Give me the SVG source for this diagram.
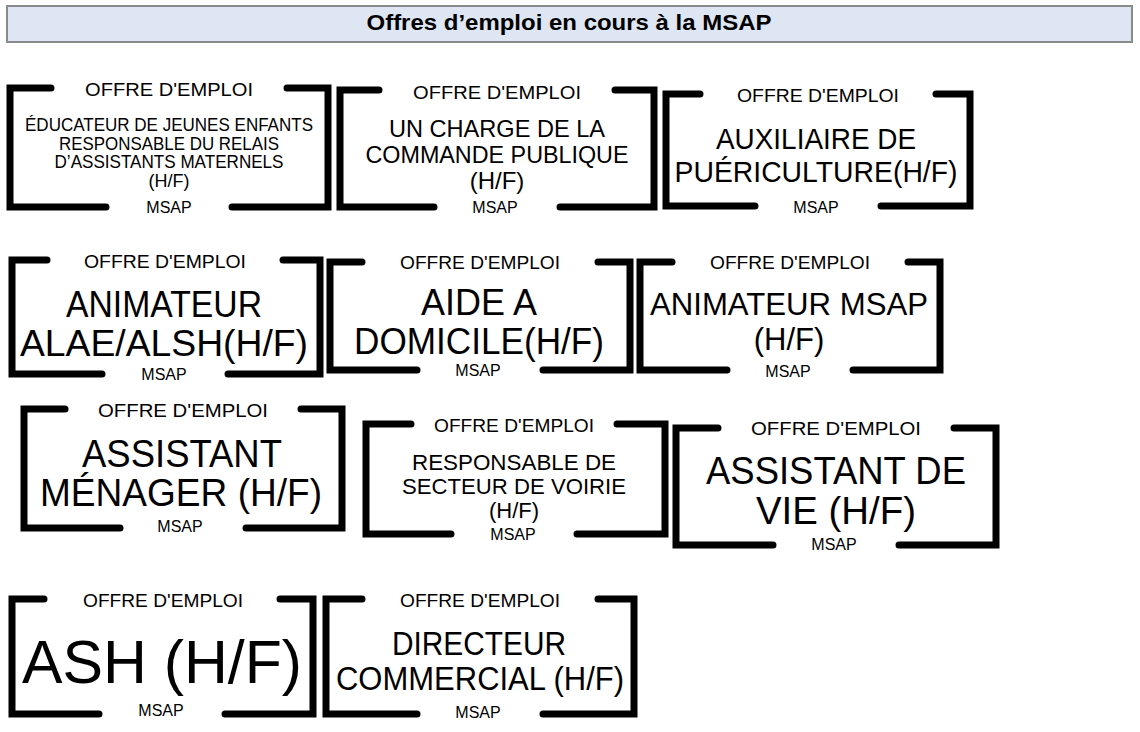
<svg xmlns="http://www.w3.org/2000/svg" width="1140" height="732" viewBox="0 0 1140 732">
<style>
.f{fill:none;stroke:#000;stroke-width:7;stroke-linecap:round;stroke-linejoin:miter}
text{font-family:"Liberation Sans",Arial,sans-serif;fill:#000;text-anchor:middle}
.h{font-size:19px}
.m{font-size:16px}
</style>
<rect width="1140" height="732" fill="#fff"/>
<g id="title"><rect x="7" y="6" width="1125" height="36" fill="#dde6f2" stroke="#8a8a8a" stroke-width="2"/>
<text x="569" y="30" style="font-size:22px;font-weight:bold" textLength="405" lengthAdjust="spacingAndGlyphs">Offres d’emploi en cours à la MSAP</text></g>
<g id="card1"><path class="f" d="M51 88H10V207H106M287 88H328V207H232"/>
<text class="h" x="169" y="96" textLength="168" lengthAdjust="spacingAndGlyphs">OFFRE D'EMPLOI</text>
<text x="169" y="131" style="font-size:18px" textLength="288" lengthAdjust="spacingAndGlyphs">ÉDUCATEUR DE JEUNES ENFANTS</text>
<text x="169" y="150" style="font-size:18px" textLength="220" lengthAdjust="spacingAndGlyphs">RESPONSABLE DU RELAIS</text>
<text x="169" y="168" style="font-size:18px" textLength="229" lengthAdjust="spacingAndGlyphs">D’ASSISTANTS MATERNELS</text>
<text x="169" y="187" style="font-size:18px">(H/F)</text>
<text class="m" x="169" y="213">MSAP</text></g>
<g id="card2"><path class="f" d="M379 90H340V207H434M615 90H654V207H560"/>
<text class="h" x="497" y="99" textLength="168" lengthAdjust="spacingAndGlyphs">OFFRE D'EMPLOI</text>
<text x="497" y="137" style="font-size:24px" textLength="216" lengthAdjust="spacingAndGlyphs">UN CHARGE DE LA</text>
<text x="497" y="163" style="font-size:24px" textLength="263" lengthAdjust="spacingAndGlyphs">COMMANDE PUBLIQUE</text>
<text x="497" y="189" style="font-size:24px">(H/F)</text>
<text class="m" x="495" y="213">MSAP</text></g>
<g id="card3"><path class="f" d="M700 94H666V206H755M936 94H970V206H881"/>
<text class="h" x="818" y="102" textLength="162" lengthAdjust="spacingAndGlyphs">OFFRE D'EMPLOI</text>
<text x="816" y="149" style="font-size:29px" textLength="200" lengthAdjust="spacingAndGlyphs">AUXILIAIRE DE</text>
<text x="816" y="182" style="font-size:29px" textLength="283" lengthAdjust="spacingAndGlyphs">PUÉRICULTURE(H/F)</text>
<text class="m" x="816" y="213">MSAP</text></g>
<g id="card4"><path class="f" d="M47 260H12V374H102M283 260H320V374H228"/>
<text class="h" x="165" y="268" textLength="162" lengthAdjust="spacingAndGlyphs">OFFRE D'EMPLOI</text>
<text x="164" y="317" style="font-size:36px" textLength="196" lengthAdjust="spacingAndGlyphs">ANIMATEUR</text>
<text x="164" y="356" style="font-size:36px" textLength="288" lengthAdjust="spacingAndGlyphs">ALAE/ALSH(H/F)</text>
<text class="m" x="164" y="380">MSAP</text></g>
<g id="card5"><path class="f" d="M362 262H330V370H417M598 262H630V370H543"/>
<text class="h" x="480" y="269" textLength="160" lengthAdjust="spacingAndGlyphs">OFFRE D'EMPLOI</text>
<text x="479" y="315" style="font-size:36px" textLength="116" lengthAdjust="spacingAndGlyphs">AIDE A</text>
<text x="479" y="354" style="font-size:36px" textLength="250" lengthAdjust="spacingAndGlyphs">DOMICILE(H/F)</text>
<text class="m" x="478" y="376">MSAP</text></g>
<g id="card6"><path class="f" d="M672 262H640V370H727M908 262H940V370H853"/>
<text class="h" x="790" y="269" textLength="160" lengthAdjust="spacingAndGlyphs">OFFRE D'EMPLOI</text>
<text x="789" y="315" style="font-size:31px" textLength="278" lengthAdjust="spacingAndGlyphs">ANIMATEUR MSAP</text>
<text x="789" y="350" style="font-size:31px">(H/F)</text>
<text class="m" x="788" y="377">MSAP</text></g>
<g id="card7"><path class="f" d="M65 409H24V528H120M301 409H342V528H246"/>
<text class="h" x="183" y="417" textLength="170" lengthAdjust="spacingAndGlyphs">OFFRE D'EMPLOI</text>
<text x="182" y="467" style="font-size:38px" textLength="200" lengthAdjust="spacingAndGlyphs">ASSISTANT</text>
<text x="181" y="506" style="font-size:38px" textLength="282" lengthAdjust="spacingAndGlyphs">MÉNAGER (H/F)</text>
<text class="m" x="180" y="532">MSAP</text></g>
<g id="card8"><path class="f" d="M411 424H366V534H451M617 424H665V534H577"/>
<text class="h" x="514" y="432" textLength="160" lengthAdjust="spacingAndGlyphs">OFFRE D'EMPLOI</text>
<text x="514" y="470" style="font-size:22px" textLength="204" lengthAdjust="spacingAndGlyphs">RESPONSABLE DE</text>
<text x="514" y="494" style="font-size:22px" textLength="224" lengthAdjust="spacingAndGlyphs">SECTEUR DE VOIRIE</text>
<text x="514" y="518" style="font-size:22px">(H/F)</text>
<text class="m" x="513" y="540">MSAP</text></g>
<g id="card9"><path class="f" d="M718 428H676V545H773M954 428H996V545H899"/>
<text class="h" x="836" y="435" textLength="170" lengthAdjust="spacingAndGlyphs">OFFRE D'EMPLOI</text>
<text x="836" y="484" style="font-size:39px" textLength="260" lengthAdjust="spacingAndGlyphs">ASSISTANT DE</text>
<text x="836" y="524" style="font-size:39px" textLength="160" lengthAdjust="spacingAndGlyphs">VIE (H/F)</text>
<text class="m" x="834" y="550">MSAP</text></g>
<g id="card10"><path class="f" d="M44 599H12V714H99M280 599H313V714H225"/>
<text class="h" x="163" y="607" textLength="160" lengthAdjust="spacingAndGlyphs">OFFRE D'EMPLOI</text>
<text x="162" y="683" style="font-size:62px" textLength="280" lengthAdjust="spacingAndGlyphs">ASH (H/F)</text>
<text class="m" x="161" y="716">MSAP</text></g>
<g id="card11"><path class="f" d="M362 599H326V714H417M598 599H634V714H543"/>
<text class="h" x="480" y="607" textLength="160" lengthAdjust="spacingAndGlyphs">OFFRE D'EMPLOI</text>
<text x="479" y="655" style="font-size:33px" textLength="174" lengthAdjust="spacingAndGlyphs">DIRECTEUR</text>
<text x="480" y="690" style="font-size:33px" textLength="288" lengthAdjust="spacingAndGlyphs">COMMERCIAL (H/F)</text>
<text class="m" x="478" y="718">MSAP</text></g>
<g id="connectors"/>
</svg>
